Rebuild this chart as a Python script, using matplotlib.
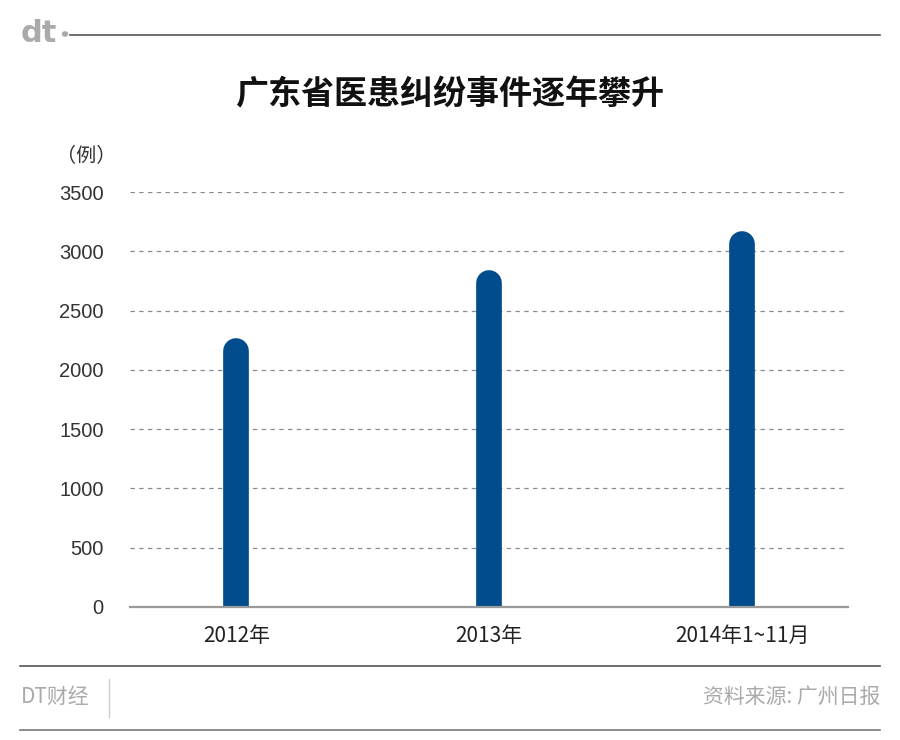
import matplotlib
matplotlib.use("Agg")
import matplotlib.pyplot as plt
from matplotlib.lines import Line2D
from matplotlib.patches import Circle

plt.rcParams['font.family'] = ['Noto Sans CJK SC', 'DejaVu Sans']

categories = ["2012年", "2013年", "2014年1~11月"]
values = [2155, 2730, 3060]
yticks = [0, 500, 1000, 1500, 2000, 2500, 3000, 3500]
title = "广东省医患纠纷事件逐年攀升"
unit = "（例）"
brand = "DT财经"
source = "资料来源: 广州日报"

W, H = 900, 740
fig = plt.figure(figsize=(W / 100, H / 100), dpi=100)
fig.patch.set_facecolor("white")

def fx(px):
    return px / W

def fy(py):
    return 1 - py / H

ax = fig.add_axes([fx(130), fy(607), fx(848) - fx(130), fy(192) - fy(607)])
ax.set_xlim(-0.421, 2.419)
ax.set_ylim(0, 3500)

bar_color = "#004C8C"
for i, v in enumerate(values):
    ax.plot([i, i], [0, v], color=bar_color, linewidth=18.5,
            solid_capstyle="round", zorder=3, clip_on=True)

# grid
for t in yticks[1:]:
    ax.axhline(t, color="#8a8a8a", linewidth=0.9, linestyle=(0, (3.5, 3.5)), zorder=1)
ax.axhline(0, color="#9a9a9a", linewidth=1.6, zorder=4, clip_on=False)

for s in ax.spines.values():
    s.set_visible(False)
ax.set_yticks(yticks)
ax.set_yticklabels([str(t) for t in yticks], fontsize=14.5, color="#333333",
                   family=["Liberation Sans", "DejaVu Sans"])
ax.tick_params(axis="y", length=0, pad=19)
ax.set_xticks(range(len(categories)))
ax.set_xticklabels(categories, fontsize=15, color="#222222")
ax.tick_params(axis="x", length=0, pad=13)
ax.set_facecolor("none")

# title
fig.text(0.5, fy(95), title, ha="center", va="center", fontsize=23.8,
         fontweight="bold", color="#111111")
fig.text(fx(56), fy(157), unit, ha="left", va="center", fontsize=14.5, color="#333333")

# top decoration
fig.add_artist(Line2D([fx(70), fx(880)], [fy(35), fy(35)], color="#555555", linewidth=1.2))
fig.text(fx(21), fy(33), "dt", ha="left", va="center", fontsize=22, fontweight="bold",
         color="#aaaaaa", family=["DejaVu Sans"])
fig.add_artist(Circle((fx(65), fy(34)), 0.0028, transform=fig.transFigure,
                      color="#aaaaaa"))

# bottom
fig.add_artist(Line2D([fx(20), fx(880)], [fy(666), fy(666)], color="#555555", linewidth=1.2))
fig.add_artist(Line2D([fx(20), fx(880)], [fy(730), fy(730)], color="#777777", linewidth=1.2))
fig.add_artist(Line2D([fx(109), fx(109)], [fy(679), fy(717)], color="#cccccc", linewidth=1.0))
fig.text(fx(21), fy(697), brand, ha="left", va="center", fontsize=15, color="#aaaaaa")
fig.text(fx(880), fy(697), source, ha="right", va="center", fontsize=15, color="#aaaaaa")

fig.savefig("out.png", dpi=100, facecolor="white")
